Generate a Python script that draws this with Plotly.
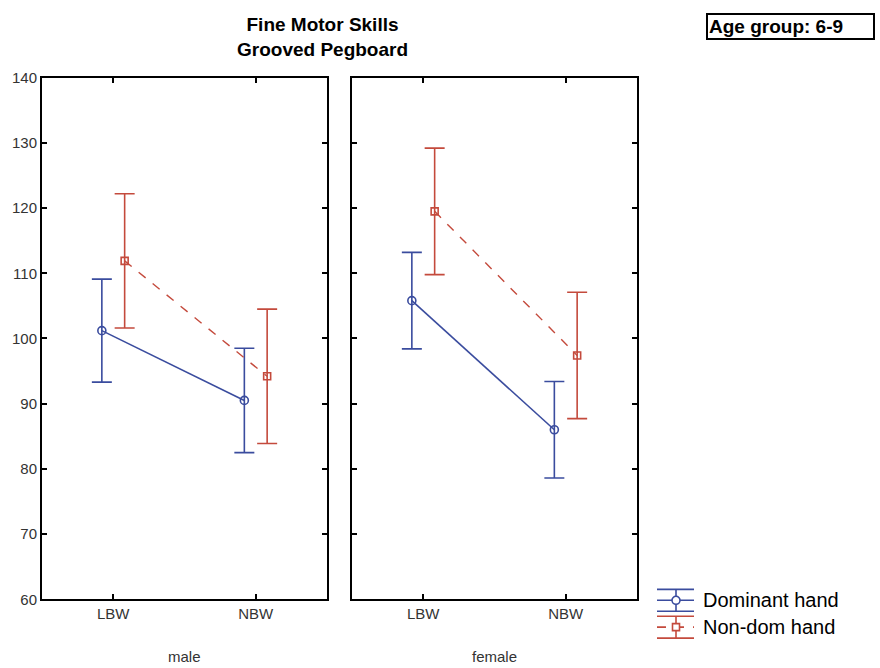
import plotly.graph_objects as go

# Birth-weight groups on the x axis
groups = ["LBW", "NBW"]
panels = ["male", "female"]

# Grooved Pegboard means and half-widths of the error bars
dominant_male = [101.2, 90.5]
dominant_male_err = [7.9, 8.0]
nondom_male = [111.9, 94.2]
nondom_male_err = [10.3, 10.3]

dominant_female = [105.8, 86.0]
dominant_female_err = [7.4, 7.4]
nondom_female = [119.5, 97.4]
nondom_female_err = [9.7, 9.7]

y_ticks = [60, 70, 80, 90, 100, 110, 120, 130, 140]

BLUE = "#3a4c9e"
RED = "#c44a3c"
offset = 0.08
FONT = "Liberation Sans, Arial"


def py(v):
    """Paper y fraction for a vertical pixel position."""
    return 1 - (v - 7) / 654


fig = go.Figure()

series = [
    ("x", "y", dominant_male, dominant_male_err, nondom_male, nondom_male_err),
    ("x2", "y2", dominant_female, dominant_female_err, nondom_female, nondom_female_err),
]
for xa, ya, dom, dom_e, nd, nd_e in series:
    pos = list(range(len(groups)))
    fig.add_trace(go.Scatter(
        x=[p - offset for p in pos], y=dom, xaxis=xa, yaxis=ya,
        mode="lines+markers", name="Dominant hand", showlegend=False,
        line=dict(color=BLUE, width=1.6),
        marker=dict(symbol="circle-open", size=8, color=BLUE, line=dict(width=1.6)),
        error_y=dict(type="data", array=dom_e, visible=True, color=BLUE,
                     thickness=1.6, width=10),
    ))
    fig.add_trace(go.Scatter(
        x=[p + offset for p in pos], y=nd, xaxis=xa, yaxis=ya,
        mode="lines+markers", name="Non-dom hand", showlegend=False,
        line=dict(color=RED, width=1.4, dash="dash"),
        marker=dict(symbol="square-open", size=7, color=RED, line=dict(width=1.6)),
        error_y=dict(type="data", array=nd_e, visible=True, color=RED,
                     thickness=1.6, width=10),
    ))

axis_common = dict(
    showline=True, linecolor="black", linewidth=2, mirror="ticks",
    ticks="inside", ticklen=5, tickcolor="black", tickwidth=1.5,
    showgrid=False, zeroline=False,
)
x_common = dict(axis_common, range=[-0.5, 1.5], tickvals=[0, 1], ticktext=groups,
                tickfont=dict(family=FONT, size=15, color="#333"))
y_common = dict(axis_common, range=[60, 140], tickvals=y_ticks,
                domain=[py(600), py(76)])

fig.update_layout(
    width=880, height=668,
    margin=dict(l=0, r=0, t=0, b=0),
    paper_bgcolor="white", plot_bgcolor="white",
    showlegend=False,
    xaxis=dict(x_common, domain=[42 / 880, 327 / 880], anchor="y"),
    xaxis2=dict(x_common, domain=[352 / 880, 637 / 880], anchor="y2"),
    yaxis=dict(y_common, anchor="x",
               tickfont=dict(family=FONT, size=15, color="#333")),
    yaxis2=dict(y_common, anchor="x2", showticklabels=False),
)

# Chart title
fig.add_annotation(x=322 / 880, y=py(35), xref="paper", yref="paper",
                   text="<b>Fine Motor Skills<br>Grooved Pegboard</b>",
                   showarrow=False, font=dict(family=FONT, size=19, color="black"),
                   xanchor="center", yanchor="middle")

# Age group box
fig.add_annotation(x=790 / 880, y=py(25), xref="paper", yref="paper",
                   text="<b>Age group: 6-9</b>", showarrow=False,
                   font=dict(family=FONT, size=19, color="black"),
                   xanchor="center", yanchor="middle", align="left",
                   bordercolor="black", borderwidth=2, borderpad=1, width=163)

# Panel captions
for name, cx in zip(panels, [(42 + 327) / 2 / 880, (352 + 637) / 2 / 880]):
    fig.add_annotation(x=cx, y=py(657), xref="paper", yref="paper",
                       text=name, showarrow=False,
                       font=dict(family=FONT, size=15, color="#333"),
                       xanchor="center", yanchor="middle")

# Legend with error-bar glyphs
legend_items = [("Dominant hand", BLUE, "circle", "solid", 601),
                ("Non-dom hand", RED, "square", "dash", 628)]
for label, color, sym, dash, yc in legend_items:
    x0, x1, xc = 657, 694, 676
    for dy in (-11, 11):
        fig.add_shape(type="line", xref="paper", yref="paper",
                      x0=x0 / 880, x1=x1 / 880, y0=py(yc + dy), y1=py(yc + dy),
                      line=dict(color=color, width=1.6))
    fig.add_shape(type="line", xref="paper", yref="paper",
                  x0=xc / 880, x1=xc / 880, y0=py(yc - 11), y1=py(yc + 11),
                  line=dict(color=color, width=1.6))
    fig.add_shape(type="line", xref="paper", yref="paper",
                  x0=x0 / 880, x1=x1 / 880, y0=py(yc), y1=py(yc),
                  line=dict(color=color, width=1.6, dash=dash))
    if sym == "circle":
        fig.add_shape(type="circle", xref="paper", yref="paper",
                      x0=(xc - 4) / 880, x1=(xc + 4) / 880,
                      y0=py(yc + 4), y1=py(yc - 4),
                      line=dict(color=color, width=1.6), fillcolor="white")
    else:
        fig.add_shape(type="rect", xref="paper", yref="paper",
                      x0=(xc - 3.5) / 880, x1=(xc + 3.5) / 880,
                      y0=py(yc + 3.5), y1=py(yc - 3.5),
                      line=dict(color=color, width=1.6), fillcolor="white")
    fig.add_annotation(x=701 / 880, y=py(yc), xref="paper", yref="paper",
                       text=label, showarrow=False,
                       font=dict(family=FONT, size=20, color="black"),
                       xanchor="left", yanchor="middle")

fig.write_html("out.html")
